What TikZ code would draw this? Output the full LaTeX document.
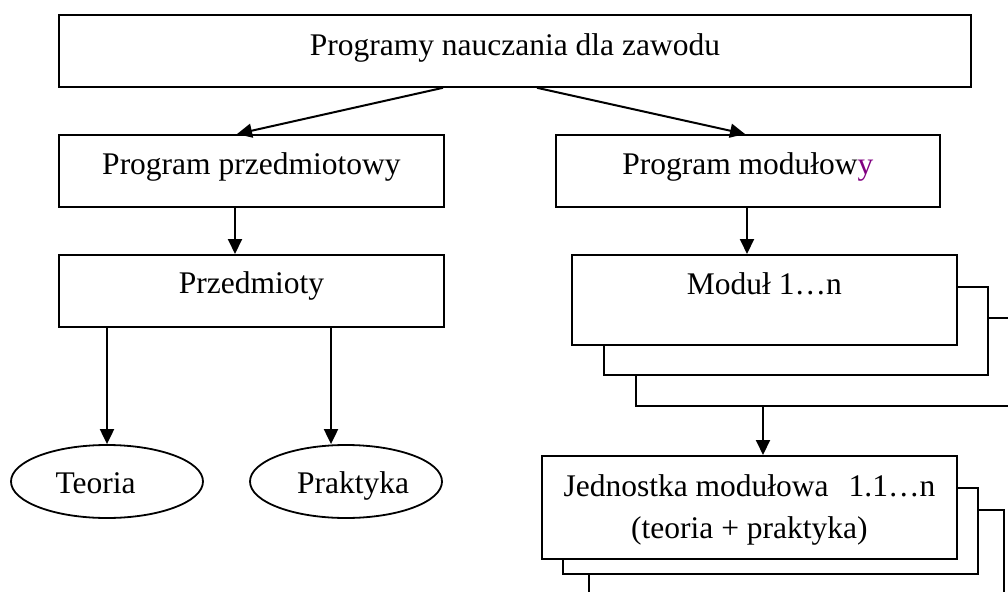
\documentclass[tikz,border=0pt]{standalone}
\usepackage{fontspec}
\setmainfont{Liberation Serif}
\usetikzlibrary{arrows.meta,shapes.geometric}
\definecolor{ypurple}{RGB}{128,0,128}
\begin{document}
\begin{tikzpicture}[x=1pt,y=-1pt,
  rbox/.style={draw, line width=1.8pt, fill=white, inner sep=0pt, anchor=north west,
               font=\fontsize{31.5}{42}\selectfont},
  tb/.style={text height=20pt, text depth=#1},
  arr/.style={line width=2pt, -{Triangle[length=15pt,width=14pt]}},
  oval/.style={draw, ellipse, line width=1.8pt, inner sep=0pt, minimum width=192pt,
               minimum height=73pt, font=\fontsize{31.5}{42}\selectfont,
               text height=23pt, text depth=0pt}]
\useasboundingbox (0,0) rectangle (1008,591);
% top level
\node[rbox, tb=10pt, minimum width=912pt, minimum height=72pt] (top) at (58,14) {Programy nauczania dla zawodu};
\node[rbox, tb=12pt, minimum width=385pt, minimum height=72pt] (pp) at (58,134) {Program przedmiotowy};
\node[rbox, tb=12pt, minimum width=384pt, minimum height=72pt] (pm) at (555,134) {Program modułow\textcolor{ypurple}{y}};
\node[rbox, tb=14pt, minimum width=385pt, minimum height=72pt] (prz) at (58,254) {Przedmioty};
% module stack
\node[rbox, minimum width=383pt, minimum height=88pt] (mod3) at (635,317) {};
\node[rbox, minimum width=384pt, minimum height=88pt] (mod2) at (603,286) {};
\node[rbox, tb=30pt, minimum width=385pt, minimum height=90pt] (mod1) at (571,254) {Moduł 1…n};
% unit stack
\node[rbox, minimum width=415pt, minimum height=100pt] (jed3) at (588,509) {};
\node[rbox, minimum width=415pt, minimum height=86pt] (jed2) at (562,487) {};
\node[rbox, align=center, text depth=2pt, minimum width=415pt, minimum height=103pt] (jed1) at (541,455)
  {Jednostka modułowa\hspace{20pt}1.1…n\\(teoria + praktyka)};
% ellipses
\node[oval] (teo) at (107,481.5) {Teoria\hspace*{23pt}};
\node[oval] (pra) at (346,481.5) {\hspace*{14pt}Praktyka};
% connectors
\draw[arr] ([xshift=385pt]top.south west) -- ([xshift=179pt]pp.north west);
\draw[arr] ([xshift=479pt]top.south west) -- ([xshift=190pt]pm.north west);
\draw[arr] ([xshift=177pt]pp.south west) -- ([xshift=177pt]prz.north west);
\coordinate (a3) at ([xshift=192pt]pm.south west);
\draw[arr] (a3) -- (a3 |- mod1.north);
\coordinate (a5) at ([xshift=128pt]mod3.south west);
\draw[arr] (a5) -- (a5 |- jed1.north);
\coordinate (a6) at (teo.north |- prz.south);
\draw[arr] (a6) -- (teo.north);
\coordinate (a7) at ([xshift=273pt]prz.south west);
\draw[arr] (a7) -- (a7 |- pra.north);
\end{tikzpicture}
\end{document}
